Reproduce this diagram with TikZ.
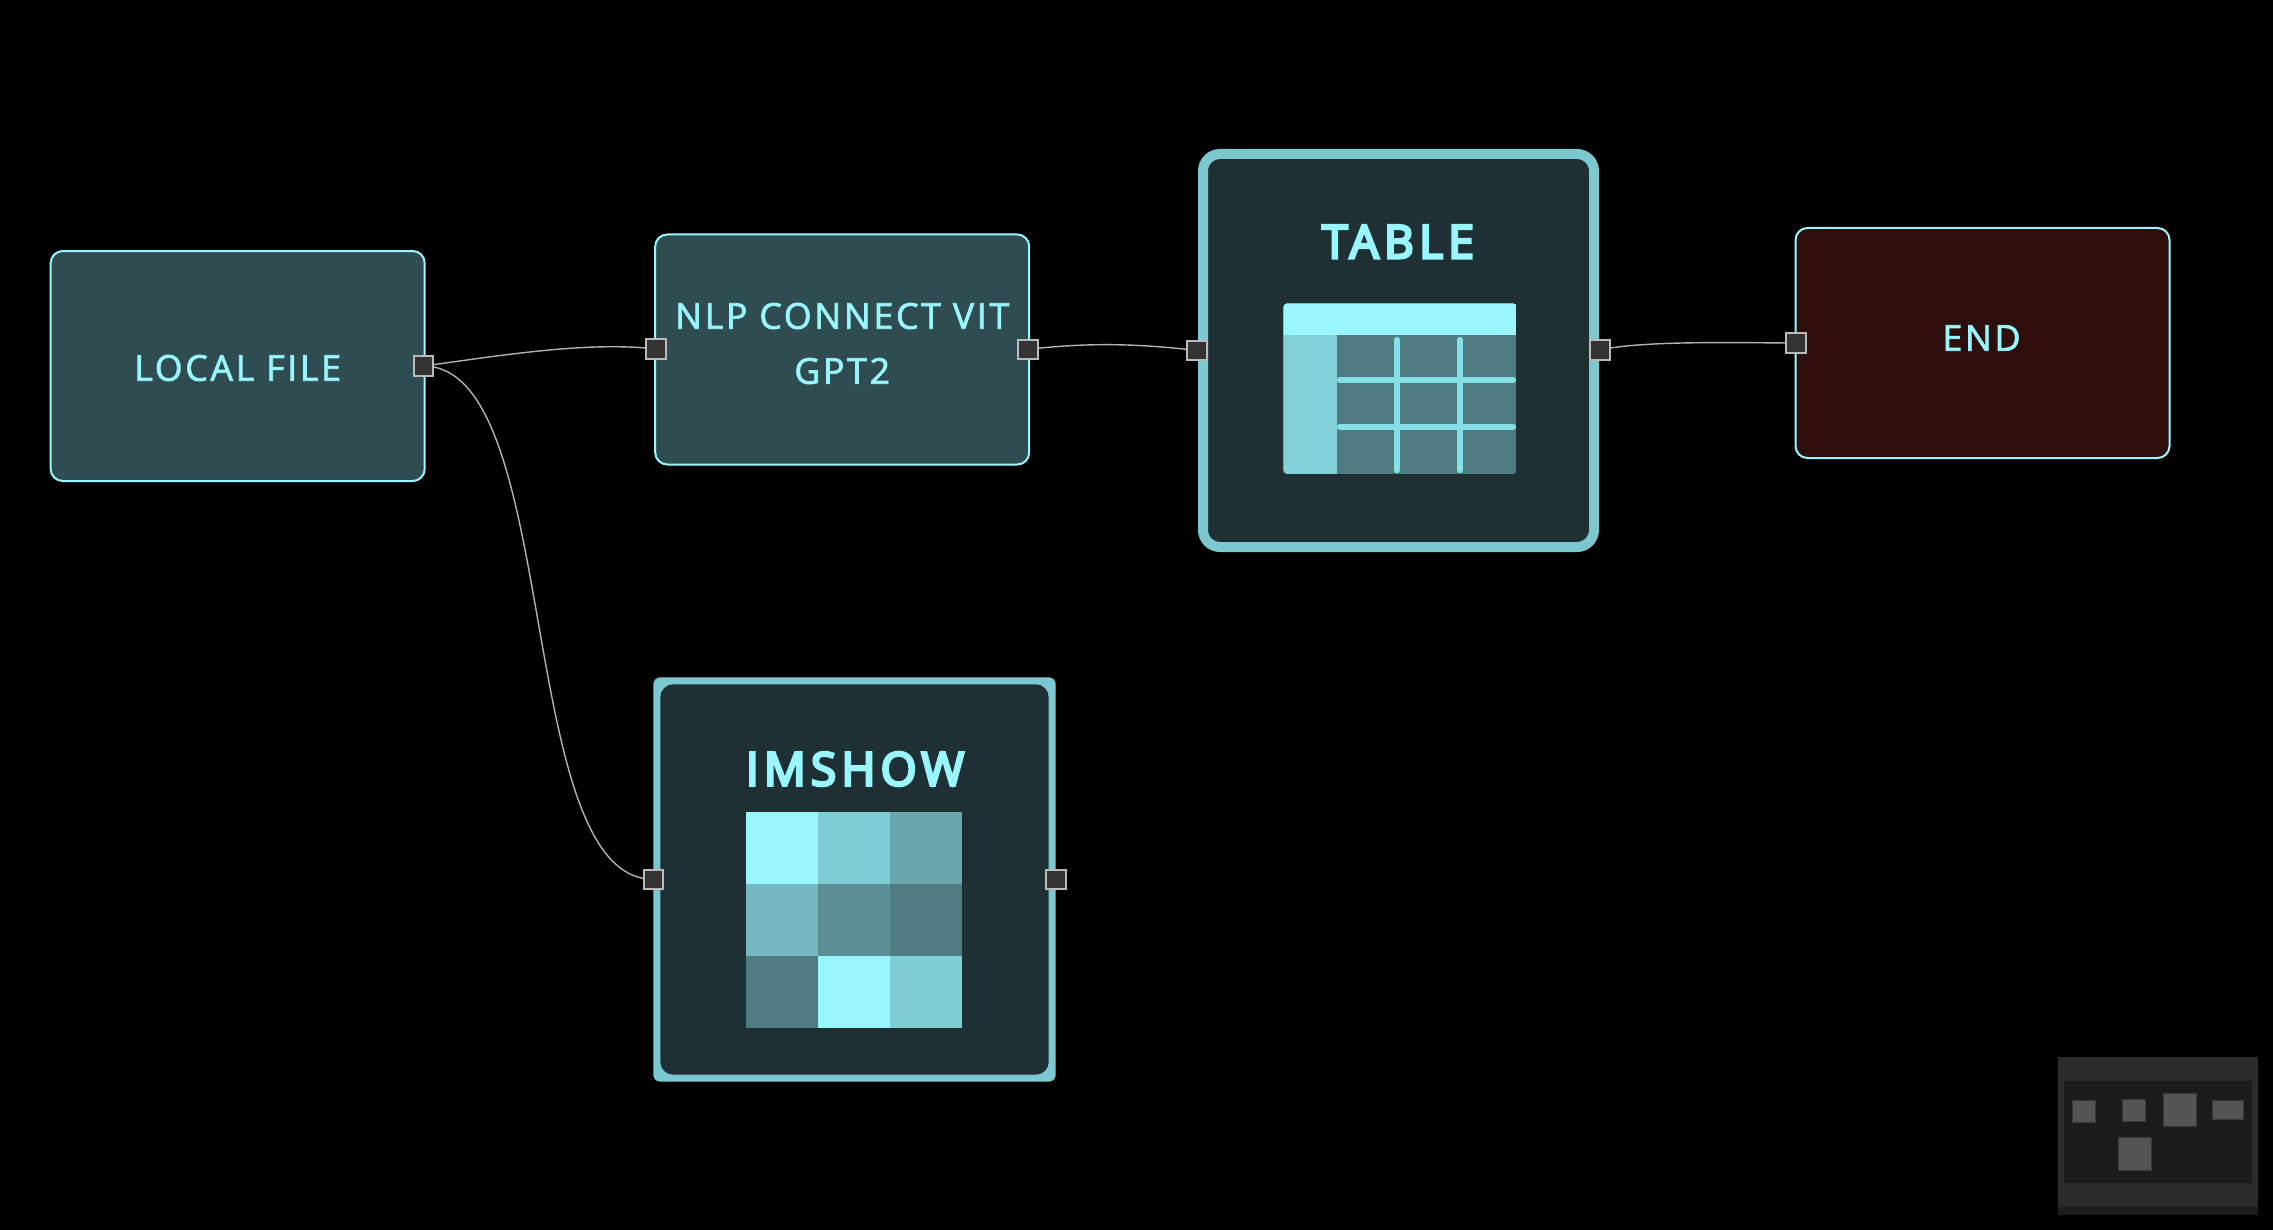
\documentclass[tikz,border=0pt]{standalone}
\usepackage{fontspec}
\setmainfont{Open Sans}
\newfontfamily\lab[LetterSpace=7.7,FakeBold=2]{Open Sans}
\newfontfamily\labb[LetterSpace=11.5,FakeBold=6]{Open Sans}
\definecolor{cyn}{HTML}{99F6FF}
\definecolor{nfill}{HTML}{2F4D50}
\definecolor{dfill}{HTML}{1F3034}
\definecolor{bord}{HTML}{7CC8D0}
\definecolor{efill}{HTML}{2D0E0C}
\definecolor{cell}{HTML}{4F7C83}
\definecolor{colm}{HTML}{82D1D8}
\definecolor{gridl}{HTML}{85E0E7}
\definecolor{gb}{HTML}{80CED5}
\definecolor{gc}{HTML}{6BA5AE}
\definecolor{gd}{HTML}{74B9C1}
\definecolor{ge}{HTML}{5C9096}
\pgfdeclarelayer{back}
\pgfdeclarelayer{edges}
\pgfsetlayers{back,edges,main}
\tikzset{
 flatbox/.style={draw=cyn,line width=1pt,rounded corners=6pt,minimum width=187pt,minimum height=115pt,inner sep=0pt,outer sep=0pt},
 flatlabel/.style={text=cyn,align=center,inner sep=0pt,font=\lab\fontsize{17.8}{27.5}\selectfont},
 port/.style={draw=white!73!black,fill=black!80,line width=1pt,minimum size=9.8pt,inner sep=0pt,outer sep=0pt,rectangle},
 wire/.style={draw=white!70!black,line width=0.7pt},
 biglabel/.style={text=cyn,inner sep=0pt,font=\labb\fontsize{23}{27}\selectfont},
 mini/.style={draw=black!78,fill=black!67,line width=0.5pt,inner sep=0pt,outer sep=0pt},
}
\begin{document}
\begin{tikzpicture}[x=0.5pt,y=-0.5pt]
\begin{pgfonlayer}{back}
\fill[black] (0,0) rectangle (2273,1230);
\end{pgfonlayer}
\useasboundingbox (0,0) rectangle (2273,1230);
% boxes
\node[flatbox,fill=nfill] (local) at (237.7,366) {};
\node[flatlabel] (locallabel) at (237.7,368) {LOCAL FILE};
\node[flatbox,fill=nfill] (nlp) at (842.2,349.5) {};
\node[flatlabel] (nlplabel) at (842.2,343.5) {NLP CONNECT VIT\\GPT2};
\node[flatbox,fill=efill] (endn) at (1982.5,343) {};
\node[flatlabel] (endlabel) at (1981.5,338) {END};
\node[draw=bord,fill=dfill,line width=5pt,rounded corners=8.5pt,minimum width=195.5pt,minimum height=196.5pt,inner sep=0pt,outer sep=0pt] (table) at (1398.5,350.5) {};
\node[fill=bord,rounded corners=3.5pt,minimum width=201.2pt,minimum height=202.2pt,inner sep=0pt,outer sep=0pt] (imshow) at (854.5,879.5) {};
\fill[dfill,rounded corners=6.5pt] (660.3,684.3) rectangle (1048.7,1074.7);
\node[biglabel] (tablelabel) at (1398,241.7) {TABLE};
\node[biglabel] (imlabel) at (855,769) {IMSHOW};
% table icon
\begin{scope}
\clip[rounded corners=2pt] (1283.3,303.3) rectangle (1516.7,474);
\fill[cell] (1283.3,303.3) rectangle (1516.7,474);
\fill[colm] (1283.3,335.3) rectangle (1336.7,474);
\fill[cyn] (1283.3,303.3) rectangle (1516.7,335.3);
\end{scope}
\draw[gridl,line width=3.2pt,line cap=round] (1397,340) -- (1397,470);
\draw[gridl,line width=3.2pt,line cap=round] (1460,340) -- (1460,470);
\draw[gridl,line width=3.2pt,line cap=round] (1340,379.7) -- (1513,379.7);
\draw[gridl,line width=3.2pt,line cap=round] (1340,426.7) -- (1513,426.7);
% imshow grid
\fill[cyn] (746.3,812.3) rectangle (818.3,884);
\fill[gb] (818.3,812.3) rectangle (890,884);
\fill[gc] (890,812.3) rectangle (961.7,884);
\fill[gd] (746.3,884) rectangle (818.3,955.7);
\fill[ge] (818.3,884) rectangle (890,955.7);
\fill[cell] (890,884) rectangle (961.7,955.7);
\fill[cell] (746.3,955.7) rectangle (818.3,1027.7);
\fill[cyn] (818.3,955.7) rectangle (890,1027.7);
\fill[gb] (890,955.7) rectangle (961.7,1027.7);
% ports
\node[port] (p1) at (423.3,366) {};
\node[port] (p2) at (656,349) {};
\node[port] (p3) at (1028,349.4) {};
\node[port] (p4) at (1197,350.5) {};
\node[port] (p5) at (1599.7,350) {};
\node[port] (p6) at (1796,343) {};
\node[port] (p7) at (653.3,879.3) {};
\node[port] (p8) at (1055.7,879.3) {};
% connectors
\begin{pgfonlayer}{edges}
\draw[wire] (p1.center) .. controls +(75,-10) and +(-70,-8) .. (p2.center);
\draw[wire] (p1.center) .. controls +(140,0) and +(-140,0) .. (p7.center);
\draw[wire] (p3.center) .. controls +(60,-7) and +(-60,-7) .. (p4.center);
\draw[wire] (p5.center) .. controls +(45,-10) and +(-50,0) .. (p6.center);
\end{pgfonlayer}
% minimap
\fill[black!83] (2058,1057) rectangle (2258,1215);
\fill[black!89] (2058,1206.7) rectangle (2258,1215);
\node[fill=black!89,inner sep=0pt,outer sep=0pt,minimum width=94pt,minimum height=50.8pt] (mapinner) at (2158,1131.8) {};
\node[mini,minimum width=11.3pt,minimum height=11.2pt] (m1) at (2083.7,1111.5) {};
\node[mini,minimum width=11.3pt,minimum height=11.2pt] (m2) at (2133.7,1110.2) {};
\node[mini,minimum width=16.7pt,minimum height=16.8pt] (m3) at (2179.7,1110) {};
\node[mini,minimum width=15.7pt,minimum height=9.7pt] (m4) at (2227.7,1109.7) {};
\node[mini,minimum width=16.8pt,minimum height=16.8pt] (m5) at (2134.8,1153.8) {};
\end{tikzpicture}
\end{document}
